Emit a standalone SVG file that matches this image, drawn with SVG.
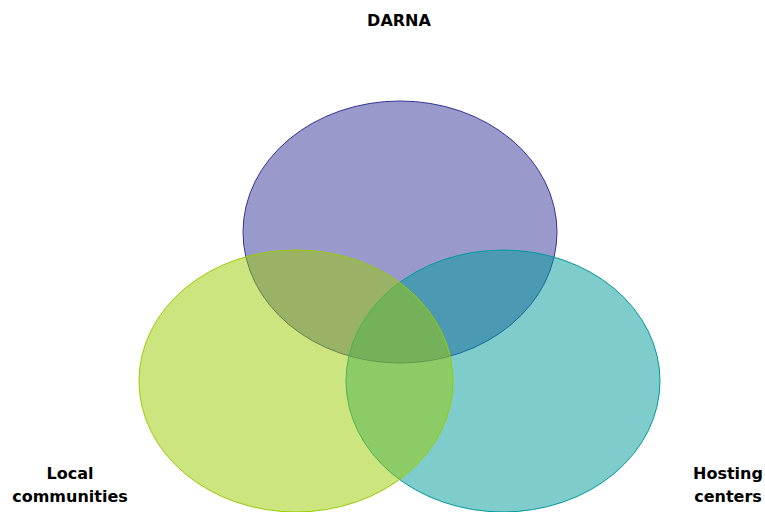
<svg xmlns="http://www.w3.org/2000/svg" width="765" height="512" viewBox="0 0 765 512">
<style>
.lbl{font-family:"DejaVu Sans","Liberation Sans",sans-serif;font-weight:bold;font-size:16px;fill:#000;text-anchor:middle}
</style>
<rect width="765" height="512" fill="#fff"/>
<g id="darna">
<ellipse cx="400" cy="232" rx="157" ry="131" fill="#333399" fill-opacity="0.5" stroke="#333399" stroke-width="1"/>
<text class="lbl" x="399" y="26">DARNA</text>
</g>
<g id="hosting-centers">
<ellipse cx="503" cy="381" rx="157" ry="131" fill="#009999" fill-opacity="0.5" stroke="#009999" stroke-width="1"/>
<text class="lbl" x="728" y="479">Hosting</text>
<text class="lbl" x="728" y="502">centers</text>
</g>
<g id="local-communities">
<ellipse cx="296" cy="381" rx="157" ry="131" fill="#99CC00" fill-opacity="0.5" stroke="#99CC00" stroke-width="1"/>
<text class="lbl" x="70" y="479">Local</text>
<text class="lbl" x="70" y="502">communities</text>
</g>
<g id="connectors"></g>
</svg>
